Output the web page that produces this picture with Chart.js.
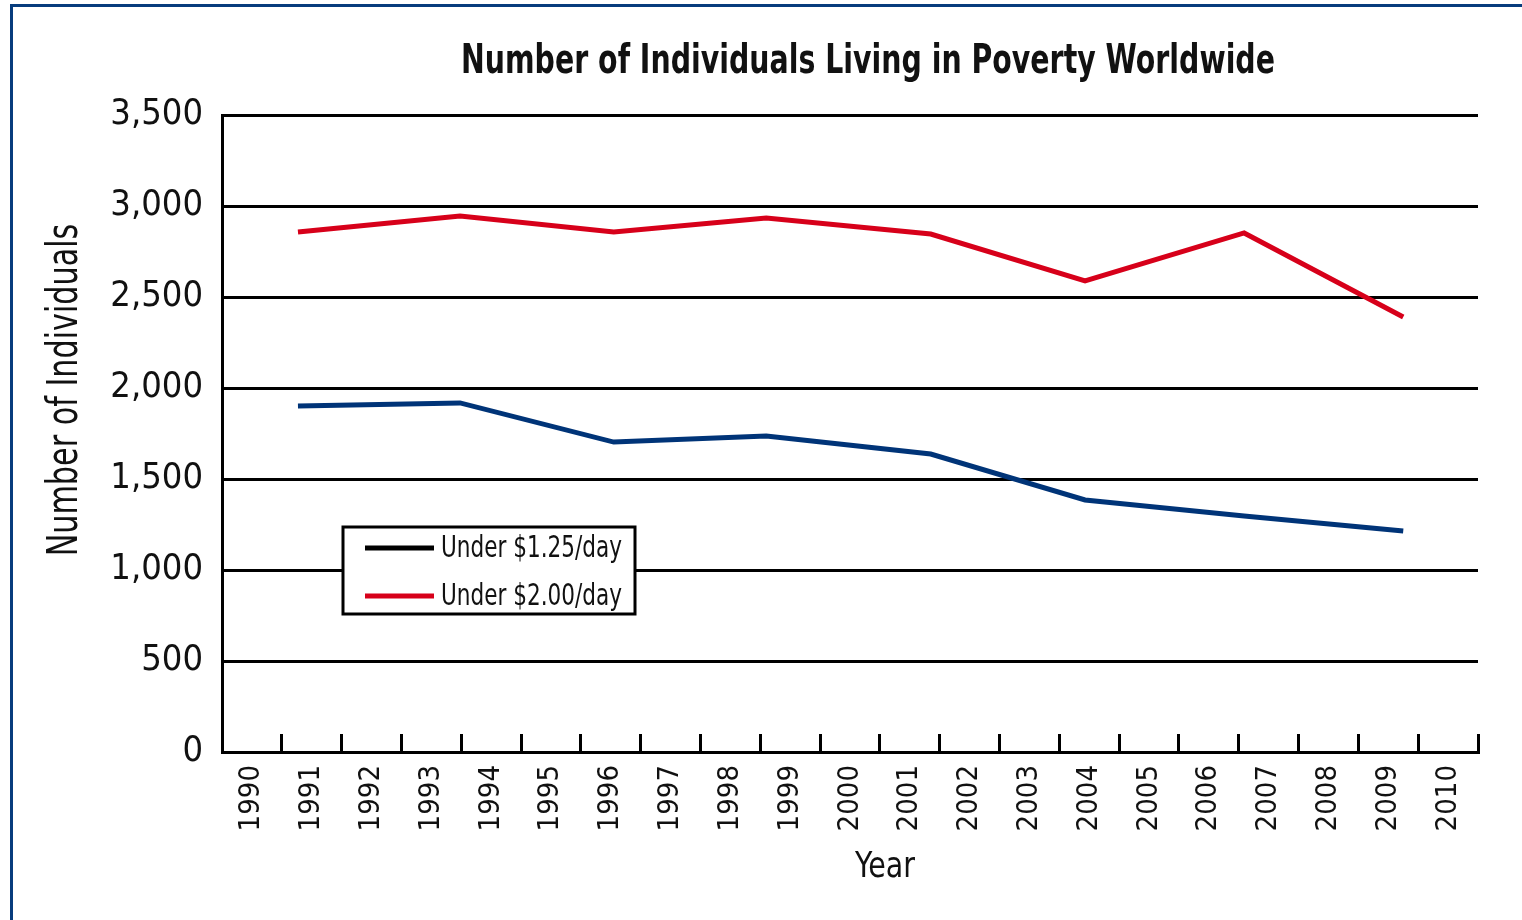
<!DOCTYPE html>
<html>
<head>
<meta charset="utf-8">
<script src="https://cdn.jsdelivr.net/npm/chart.js@4.4.1/dist/chart.umd.min.js"></script>
<style>
  html, body { margin: 0; padding: 0; background: #fff; }
  body { width: 1522px; height: 920px; overflow: hidden; position: relative; }
  #frame { position: absolute; left: 10px; top: 4px; width: 1600px; height: 1000px;
           border-top: 3px solid #073c7d; border-left: 3px solid #073c7d; }
  #wrap { position: absolute; left: 0; top: 0; width: 1522px; height: 920px; }
</style>
</head>
<body>
<div id="frame"></div>
<div id="wrap"><canvas id="povertyChart" width="1522" height="920"></canvas></div>
<script>
const years = [1990, 1991, 1992, 1993, 1994, 1995, 1996, 1997, 1998, 1999, 2000,
               2001, 2002, 2003, 2004, 2005, 2006, 2007, 2008, 2009, 2010];
// survey points sit between the year ticks in the original
const pointYears = [1990.77, 1993.48, 1996.05, 1998.6, 2001.35, 2003.93, 2006.59, 2009.25];
const under125 = [1901, 1918, 1703, 1736, 1637, 1385, 1297, 1214];
const under200 = [2857, 2945, 2857, 2934, 2846, 2588, 2852, 2390];
const seriesLabels = ['Under $1.25/day', 'Under $2.00/day'];
const lineColors = ['#003478', '#d7001a'];
const legendColors = ['#000000', '#d7001a'];

const chartTitle = 'Number of Individuals Living in Poverty Worldwide';
const xTitle = 'Year';
const yTitle = 'Number of Individuals';

const FONT = "'Liberation Sans Narrow', 'Arial Narrow', 'DejaVu Sans Condensed', sans-serif";
Chart.defaults.font.family = FONT;
Chart.defaults.color = '#111';

const toPoints = (vals) => vals.map((v, i) => ({ x: pointYears[i], y: v }));

// the original type is a narrow face; squeeze our own texts sideways to match
function squeezedText(ctx, text, x, y, sx) {
  ctx.save();
  ctx.translate(x, y);
  ctx.scale(sx, 1);
  ctx.fillText(text, 0, 0);
  ctx.restore();
}

// titles and the boxed legend are placed off-centre in the original, so draw them here
const decor = {
  id: 'decor',
  afterDraw(chart) {
    const ctx = chart.ctx;
    const a = chart.chartArea;
    ctx.save();
    ctx.fillStyle = '#111';
    ctx.textAlign = 'center';
    ctx.textBaseline = 'middle';
    ctx.font = 'bold 41px ' + FONT;
    squeezedText(ctx, chartTitle, 868, 62, 0.77);
    ctx.font = '36px ' + FONT;
    squeezedText(ctx, xTitle, 885, 868, 0.88);
    ctx.save();
    ctx.translate(66, 390);
    ctx.rotate(-Math.PI / 2);
    ctx.font = '42px ' + FONT;
    squeezedText(ctx, yTitle, 0, 0, 0.8);
    ctx.restore();

    // legend box
    const bx = a.left + 121, by = a.top + 412, bw = 292, bh = 87;
    ctx.fillStyle = '#fff';
    ctx.fillRect(bx, by, bw, bh);
    ctx.lineWidth = 3;
    ctx.strokeStyle = '#000';
    ctx.strokeRect(bx, by, bw, bh);
    ctx.font = '30px ' + FONT;
    ctx.textAlign = 'left';
    chart.data.datasets.forEach((ds, i) => {
      const y = by + 21 + i * 48;
      ctx.beginPath();
      ctx.moveTo(bx + 22, y);
      ctx.lineTo(bx + 91, y);
      ctx.lineWidth = 5;
      ctx.strokeStyle = legendColors[i];
      ctx.stroke();
      ctx.fillStyle = '#111';
      squeezedText(ctx, ds.label, bx + 98, y + 1, 0.8);
    });
    ctx.restore();
  }
};

new Chart(document.getElementById('povertyChart'), {
  type: 'line',
  data: {
    datasets: [{
      label: seriesLabels[0],
      data: toPoints(under125),
      borderColor: lineColors[0],
      borderWidth: 5,
      pointRadius: 0,
      tension: 0
    }, {
      label: seriesLabels[1],
      data: toPoints(under200),
      borderColor: lineColors[1],
      borderWidth: 5,
      pointRadius: 0,
      tension: 0
    }]
  },
  options: {
    responsive: false,
    animation: false,
    devicePixelRatio: 1,
    layout: { padding: { left: 45, right: 44, top: 115, bottom: 0 } },
    plugins: {
      legend: { display: false },
      title: { display: false },
      tooltip: { enabled: false }
    },
    scales: {
      x: {
        type: 'linear',
        min: 1989.5,
        max: 2010.5,
        afterBuildTicks(scale) {
          scale.ticks = years.map(v => ({ value: v }));
        },
        afterFit(scale) { scale.height = 168; },
        ticks: {
          autoSkip: false,
          minRotation: 90,
          maxRotation: 90,
          padding: 31,
          font: { size: 29 },
          callback: (v) => String(v)
        },
        grid: {
          offset: true,
          drawOnChartArea: false,
          tickLength: -18,
          color: '#000',
          lineWidth: 3
        },
        border: { color: '#000', width: 3 }
      },
      y: {
        min: 0,
        max: 3500,
        afterFit(scale) { scale.width = 177; },
        ticks: {
          stepSize: 500,
          padding: 19,
          font: { size: 36 }
        },
        grid: {
          drawTicks: false,
          color: '#000',
          lineWidth: 3
        },
        border: { color: '#000', width: 3 }
      }
    }
  },
  plugins: [decor]
});
</script>
</body>
</html>
